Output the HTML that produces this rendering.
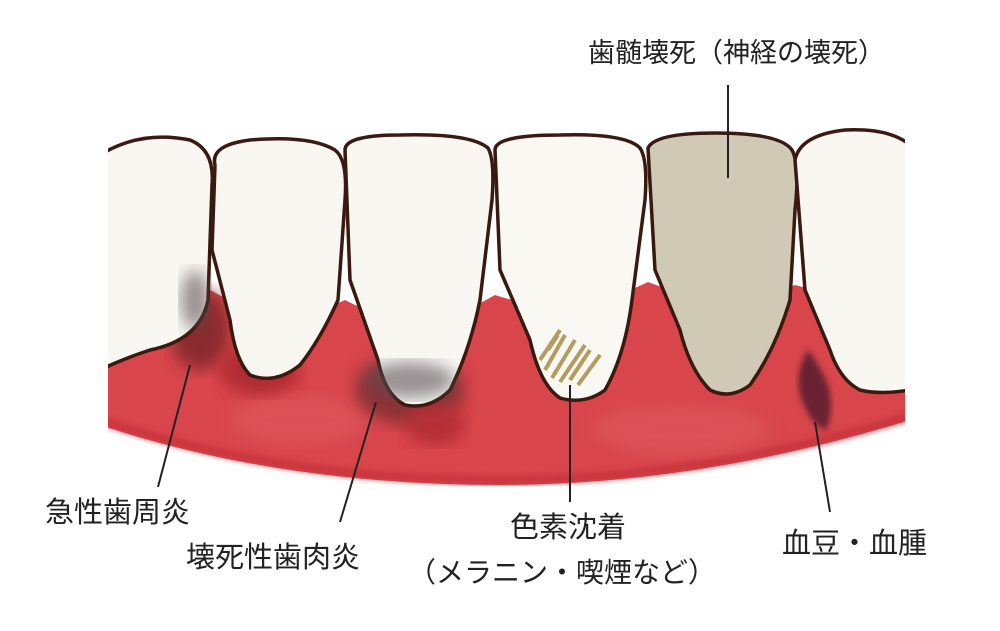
<!DOCTYPE html>
<html><head><meta charset="utf-8"><style>
html,body{margin:0;padding:0;background:#fff;}
body{width:1000px;height:626px;overflow:hidden;}
text{font-family:"Liberation Sans","Noto Sans CJK JP",sans-serif;font-size:29px;fill:#222;}
</style></head><body>
<svg width="1000" height="626" viewBox="0 0 1000 626" xmlns="http://www.w3.org/2000/svg">
<defs>
<filter id="blur"><feGaussianBlur stdDeviation="8"/></filter>
<filter id="blur2"><feGaussianBlur stdDeviation="3"/></filter>
<clipPath id="clipArea"><rect x="108" y="0" width="797" height="626"/></clipPath>
</defs>
<g clip-path="url(#clipArea)">
<path d="M100 320 Q160 300 210 290 Q280 330 345 300 Q420 340 495 295 Q570 320 648 282 Q720 310 795 285 Q850 300 910 300 L910 420 Q700 485 500 485 Q280 485 100 425 Z" fill="#d8454b"/>
<path d="M100 420 Q280 480 500 480 Q700 480 910 416" fill="none" stroke="#c9343c" stroke-width="8" filter="url(#blur2)"/>
<ellipse cx="300" cy="420" rx="70" ry="25" fill="#e05a60" opacity="0.6" filter="url(#blur)"/>
<ellipse cx="680" cy="430" rx="90" ry="25" fill="#e05a60" opacity="0.6" filter="url(#blur)"/>
<ellipse cx="200" cy="330" rx="30" ry="40" fill="#8a2a2e" filter="url(#blur)"/>
<ellipse cx="260" cy="370" rx="40" ry="25" fill="#b02a32" filter="url(#blur)"/>
<ellipse cx="410" cy="390" rx="55" ry="35" fill="#8c3236" filter="url(#blur)"/>
<ellipse cx="435" cy="425" rx="30" ry="20" fill="#b52d35" filter="url(#blur)"/>
<g stroke="#3a1a10" stroke-width="3.5" stroke-linejoin="round">
<path d="M100 155 Q140 130 190 140 Q215 150 212 185 L208 300 Q200 340 150 350 Q120 360 100 370 Z" fill="#f8f7f2"/>
<path d="M215 165 Q210 145 250 140 Q310 135 335 150 Q348 160 345 200 L338 300 Q320 340 300 365 Q275 385 250 375 Q235 360 230 320 L212 250 Z" fill="#f7f6f0"/>
<path d="M345 150 Q345 135 400 135 Q470 133 488 148 Q495 160 492 200 L480 300 Q470 350 450 390 Q430 410 405 405 Q385 395 378 360 L350 280 Z" fill="#f8f7f1"/>
<path d="M495 150 Q495 135 560 135 Q625 133 640 148 Q648 160 645 200 L632 300 Q625 355 605 390 Q585 405 560 398 Q540 385 530 340 L500 270 Z" fill="#f9f8f3"/>
<path d="M648 148 Q655 133 715 133 Q780 133 792 150 Q800 165 795 210 L790 300 Q775 350 750 385 Q730 400 710 390 Q690 370 680 330 L655 270 Z" fill="#cfc9b6"/>
<path d="M795 160 Q800 135 845 130 Q890 128 910 145 L910 390 Q880 395 860 390 Q840 380 830 350 L805 290 Z" fill="#f8f7f2"/>
</g>
<ellipse cx="410" cy="380" rx="45" ry="18" fill="#5a5058" opacity="0.6" filter="url(#blur)"/>
<ellipse cx="195" cy="300" rx="14" ry="30" fill="#5a4a4e" opacity="0.6" filter="url(#blur)"/>
<g stroke="#a98c46" stroke-width="4" opacity="0.85">
<path d="M545 370 L565 335"/><path d="M552 378 L575 340"/><path d="M560 382 L585 345"/>
<path d="M570 380 L590 350"/><path d="M540 360 L560 330"/><path d="M578 385 L600 355"/>
<path d="M548 350 L558 335"/>
</g>
<path d="M808 350 Q795 370 800 395 Q810 425 826 430 Q835 410 828 385 Q820 365 808 350 Z" fill="#6a2230" filter="url(#blur2)"/>
</g>
<g stroke="#222" stroke-width="2">
<line x1="728" y1="85" x2="728" y2="178"/>
<line x1="190" y1="365" x2="158" y2="487"/>
<line x1="376" y1="402" x2="340" y2="522"/>
<line x1="570" y1="385" x2="570" y2="502"/>
<line x1="815" y1="422" x2="830" y2="512"/>
</g>
<text x="588" y="62" style="font-size:27px">歯髄壊死（神経の壊死）</text>
<text x="45" y="522">急性歯周炎</text>
<text x="186" y="567">壊死性歯肉炎</text>
<text x="510" y="537">色素沈着</text>
<text x="408" y="582" style="font-size:28px">（メラニン・喫煙など）</text>
<text x="782" y="553">血豆・血腫</text>
</svg>
</body></html>
